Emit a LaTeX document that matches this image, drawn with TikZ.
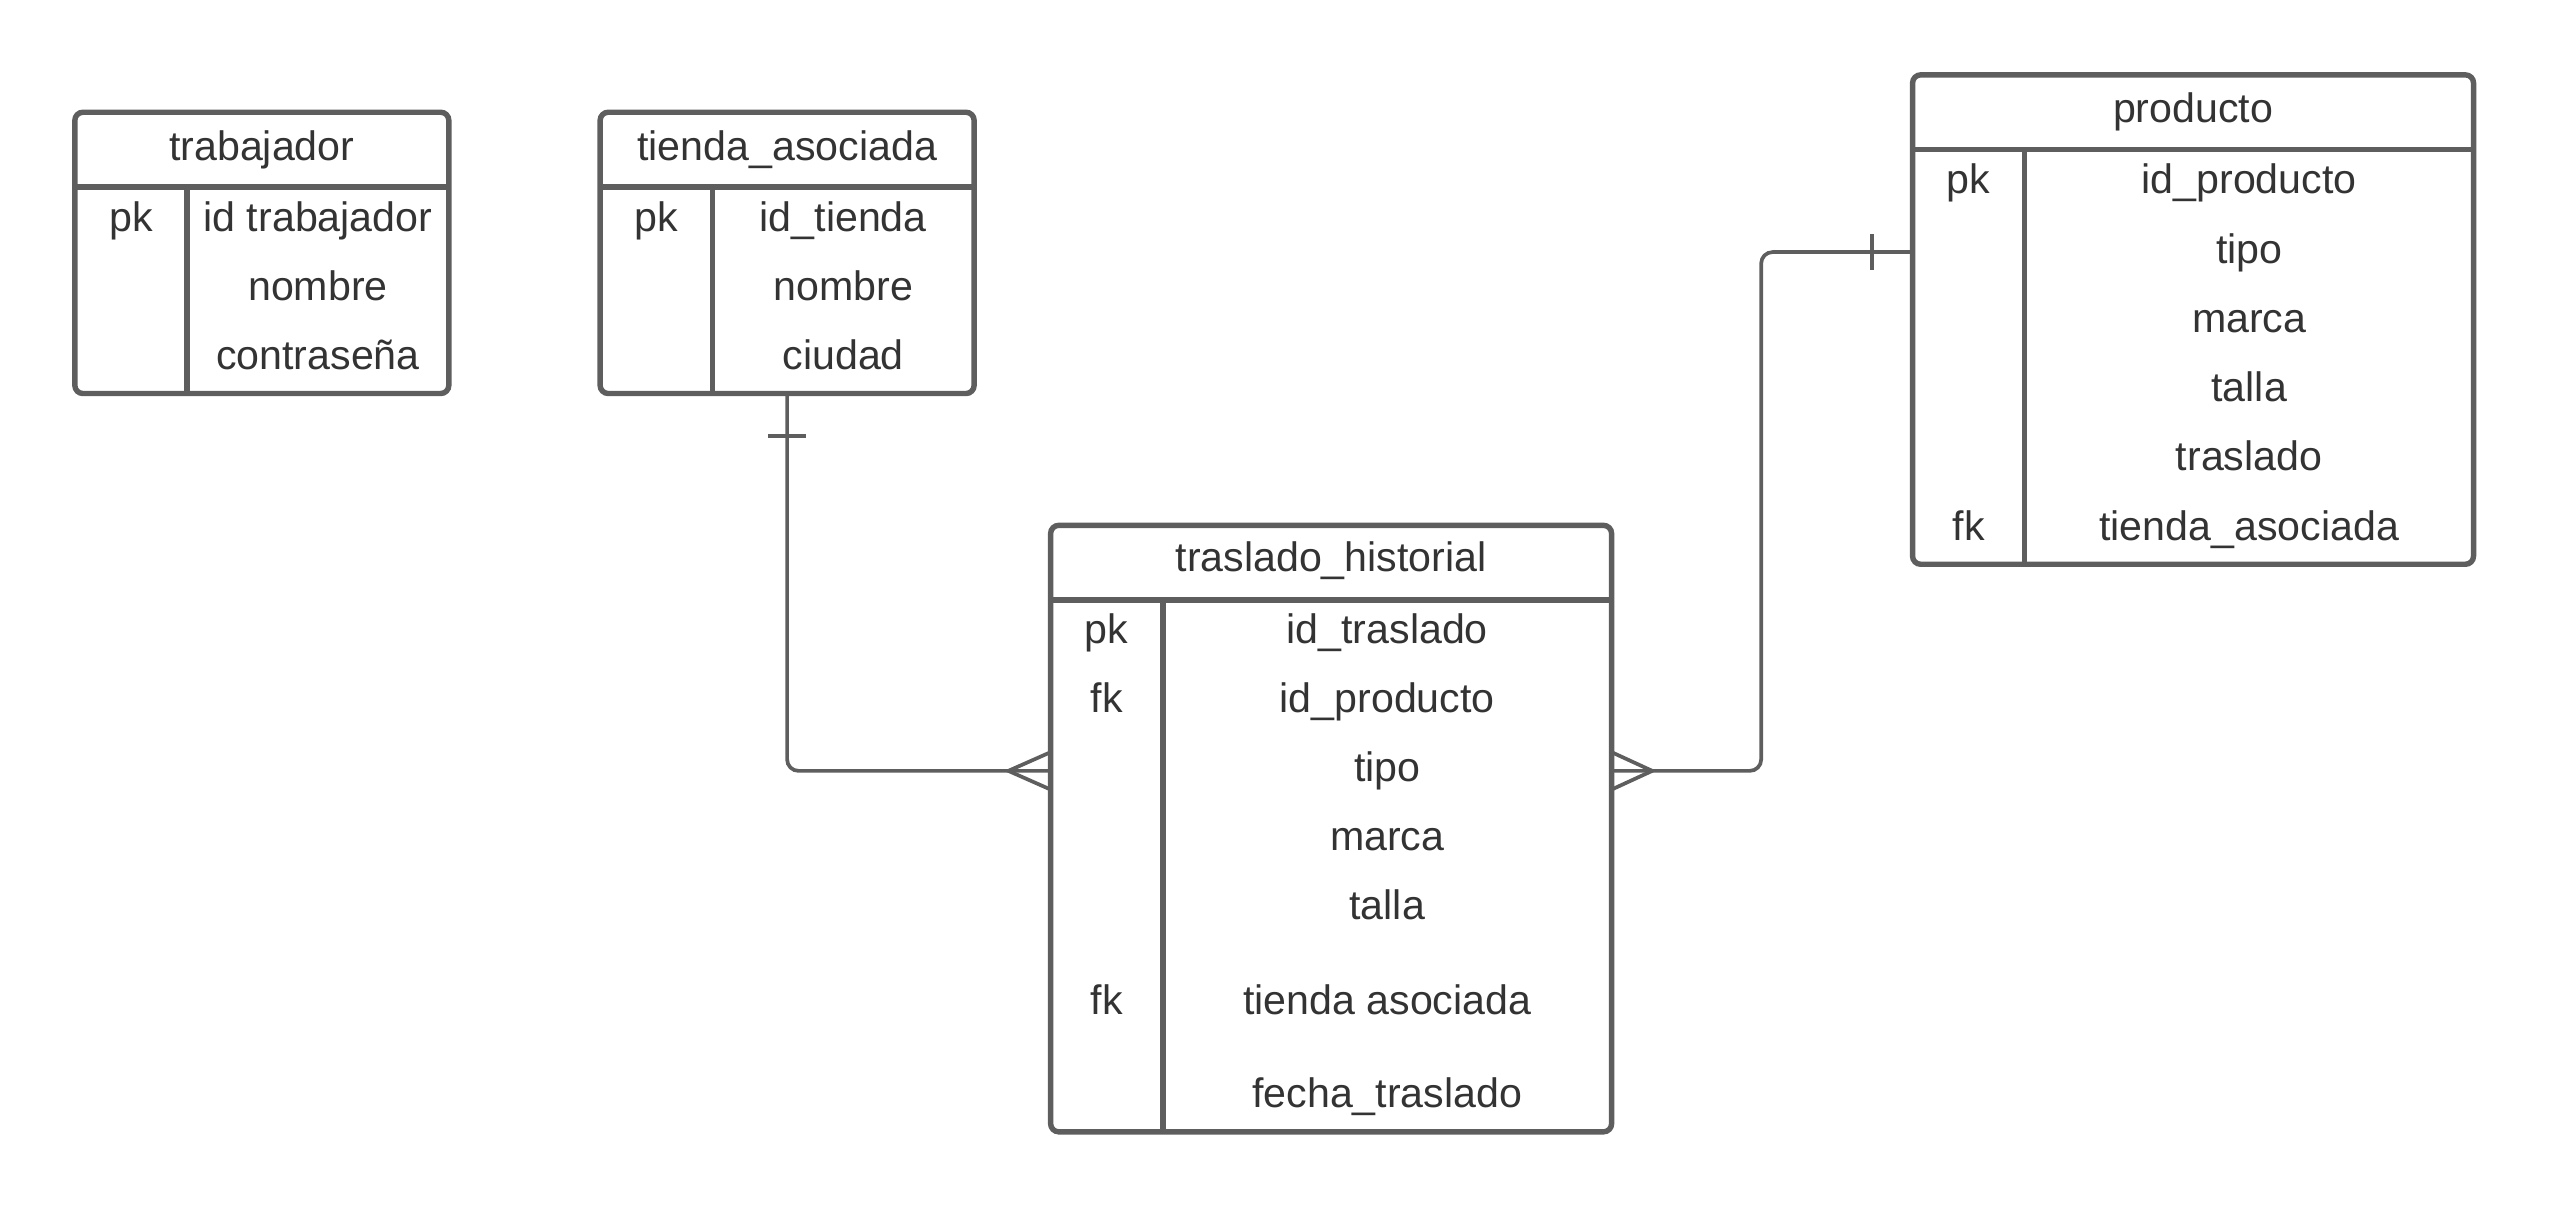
\documentclass[tikz,border=0pt]{standalone}
\usepackage{fontspec}
\setmainfont{Liberation Sans}
\definecolor{linea}{HTML}{5E5E5E}
\definecolor{texto}{HTML}{333333}

\begin{document}
\begin{tikzpicture}[x=0.02cm,y=-0.02cm,
tabla/.style={draw=linea,line width=1.9pt,rounded corners=0.1cm,inner sep=0pt,outer sep=0pt},
raya/.style={draw=linea,line width=1.9pt},
rel/.style={draw=linea,line width=1.3pt},
campo/.style={text=texto,inner sep=0pt,text height=10.3pt,text depth=0pt,font=\fontsize{14.4}{17}\selectfont}]
\useasboundingbox (0,0) rectangle (1568,743);

\node[tabla,minimum width=4.6cm,minimum height=3.46cm] (trabajador) at (161,155.5) {};
\draw[raya] ([yshift=-0.92cm]trabajador.north west) -- ([yshift=-0.92cm]trabajador.north east);
\draw[raya] ([xshift=1.38cm,yshift=-0.92cm]trabajador.north west) -- ([xshift=1.38cm]trabajador.south west);
\node[campo] (trabajador-t) at (161,89.5) {trabajador};
\node[campo] (trabajador-k1) at (80.5,133) {pk};
\node[campo] (trabajador-c1) at (195.5,133) {id trabajador};
\node[campo] (trabajador-c2) at (195.5,175.5) {nombre};
\node[campo] (trabajador-c3) at (195.5,218) {contraseña};

\node[tabla,minimum width=4.6cm,minimum height=3.46cm] (tienda) at (484,155.5) {};
\draw[raya] ([yshift=-0.92cm]tienda.north west) -- ([yshift=-0.92cm]tienda.north east);
\draw[raya] ([xshift=1.38cm,yshift=-0.92cm]tienda.north west) -- ([xshift=1.38cm]tienda.south west);
\node[campo] (tienda-t) at (484,89.5) {tienda\_asociada};
\node[campo] (tienda-k1) at (403.5,133) {pk};
\node[campo] (tienda-c1) at (518.5,133) {id\_tienda};
\node[campo] (tienda-c2) at (518.5,175.5) {nombre};
\node[campo] (tienda-c3) at (518.5,218) {ciudad};

\node[tabla,minimum width=6.9cm,minimum height=6.02cm] (producto) at (1348.5,196.5) {};
\draw[raya] ([yshift=-0.92cm]producto.north west) -- ([yshift=-0.92cm]producto.north east);
\draw[raya] ([xshift=1.38cm,yshift=-0.92cm]producto.north west) -- ([xshift=1.38cm]producto.south west);
\node[campo] (producto-t) at (1348.5,66.5) {producto};
\node[campo] (producto-k1) at (1210.5,110) {pk};
\node[campo] (producto-c1) at (1383,110) {id\_producto};
\node[campo] (producto-c2) at (1383,153) {tipo};
\node[campo] (producto-c3) at (1383,195.5) {marca};
\node[campo] (producto-c4) at (1383,238) {talla};
\node[campo] (producto-c5) at (1383,280.5) {traslado};
\node[campo] (producto-k6) at (1210.5,323) {fk};
\node[campo] (producto-c6) at (1383,323) {tienda\_asociada};

\node[tabla,minimum width=6.9cm,minimum height=7.46cm] (historial) at (818.5,509.5) {};
\draw[raya] ([yshift=-0.92cm]historial.north west) -- ([yshift=-0.92cm]historial.north east);
\draw[raya] ([xshift=1.38cm,yshift=-0.92cm]historial.north west) -- ([xshift=1.38cm]historial.south west);
\node[campo] (historial-t) at (818.5,342.5) {traslado\_historial};
\node[campo] (historial-k1) at (680.5,386.5) {pk};
\node[campo] (historial-c1) at (853,386.5) {id\_traslado};
\node[campo] (historial-k2) at (680.5,429) {fk};
\node[campo] (historial-c2) at (853,429) {id\_producto};
\node[campo] (historial-c3) at (853,471.5) {tipo};
\node[campo] (historial-c4) at (853,514) {marca};
\node[campo] (historial-c5) at (853,556.5) {talla};
\node[campo] (historial-k6) at (680.5,614.5) {fk};
\node[campo] (historial-c6) at (853,614.5) {tienda asociada};
\node[campo] (historial-c7) at (853,672) {fecha\_traslado};

\coordinate (hl) at ([yshift=0.71cm]historial.west);
\coordinate (hr) at ([yshift=0.71cm]historial.east);
\coordinate (pl) at ([yshift=0.83cm]producto.west);

\draw[rel,rounded corners=0.14cm] (tienda.south) |- (hl);
\draw[rel] ([xshift=-0.23cm,yshift=-0.52cm]tienda.south) -- ([xshift=0.23cm,yshift=-0.52cm]tienda.south);
\draw[rel] ([yshift=0.23cm]hl) -- ([xshift=-0.52cm]hl) -- ([yshift=-0.23cm]hl);

\draw[rel,rounded corners=0.14cm] (pl) -| ([xshift=1.84cm]hr) -- (hr);
\draw[rel] ([xshift=-0.5cm,yshift=0.22cm]pl) -- ([xshift=-0.5cm,yshift=-0.22cm]pl);
\draw[rel] ([yshift=0.23cm]hr) -- ([xshift=0.5cm]hr) -- ([yshift=-0.23cm]hr);
\end{tikzpicture}
\end{document}
